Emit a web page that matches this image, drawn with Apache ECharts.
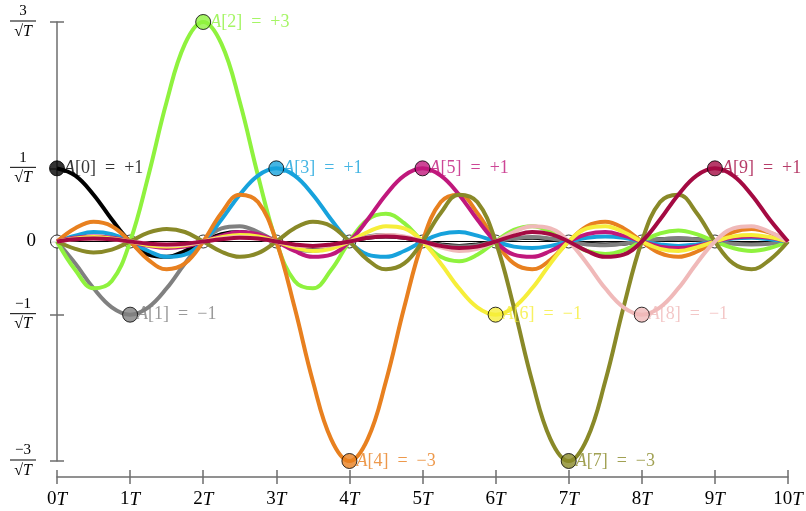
<!DOCTYPE html>
<html><head><meta charset="utf-8">
<script src="https://cdn.jsdelivr.net/npm/echarts@6/dist/echarts.min.js"></script>
<style>html,body{margin:0;padding:0;background:#fff}#c{width:806px;height:511px}</style>
</head><body><div id="c"></div>
<script>
// sample times (in units of T), quarter-T steps
const times = [0,0.25,0.5,0.75,1,1.25,1.5,1.75,2,2.25,2.5,2.75,3,3.25,3.5,3.75,4,4.25,4.5,4.75,5,
  5.25,5.5,5.75,6,6.25,6.5,6.75,7,7.25,7.5,7.75,8,8.25,8.5,8.75,9,9.25,9.5,9.75,10];
// symbol amplitudes A[k]
const amplitudes = [1,-1,3,1,-3,1,-1,-3,-1,1];
// pulse curves (one per symbol)
const pulseA0 = [1,0.90,0.64,0.30,0,-0.18,-0.21,-0.13,0,0.10,0.13,0.08,0,-0.07,-0.09,-0.06,0,0.05,0.07,0.05,0,-0.04,-0.06,-0.04,0,0.04,0.05,0.03,0,-0.03,-0.04,-0.03,0,0.03,0.04,0.03,0,-0.02,-0.03,-0.02,0];
const pulseA1 = [0,-0.30,-0.64,-0.90,-1,-0.90,-0.64,-0.30,0,0.18,0.21,0.13,0,-0.10,-0.13,-0.08,0,0.07,0.09,0.06,0,-0.05,-0.07,-0.05,0,0.04,0.06,0.04,0,-0.04,-0.05,-0.03,0,0.03,0.04,0.03,0,-0.03,-0.04,-0.03,0];
const pulseA2 = [0,-0.39,-0.64,-0.54,0,0.90,1.91,2.70,3,2.70,1.91,0.90,0,-0.54,-0.64,-0.39,0,0.30,0.38,0.25,0,-0.21,-0.27,-0.18,0,0.16,0.21,0.14,0,-0.13,-0.17,-0.12,0,0.11,0.15,0.10,0,-0.09,-0.13,-0.09,0];
const pulseA3 = [0,0.08,0.13,0.10,0,-0.13,-0.21,-0.18,0,0.30,0.64,0.90,1,0.90,0.64,0.30,0,-0.18,-0.21,-0.13,0,0.10,0.13,0.08,0,-0.07,-0.09,-0.06,0,0.05,0.07,0.05,0,-0.04,-0.06,-0.04,0,0.04,0.05,0.03,0];
const pulseA4 = [0,0.18,0.27,0.21,0,-0.25,-0.38,-0.30,0,0.39,0.64,0.54,0,-0.90,-1.91,-2.70,-3,-2.70,-1.91,-0.90,0,0.54,0.64,0.39,0,-0.30,-0.38,-0.25,0,0.21,0.27,0.18,0,-0.16,-0.21,-0.14,0,0.13,0.17,0.12,0];
const pulseA5 = [0,0.05,0.07,0.05,0,-0.06,-0.09,-0.07,0,0.08,0.13,0.10,0,-0.13,-0.21,-0.18,0,0.30,0.64,0.90,1,0.90,0.64,0.30,0,-0.18,-0.21,-0.13,0,0.10,0.13,0.08,0,-0.07,-0.09,-0.06,0,0.05,0.07,0.05,0];
const pulseA6 = [0,0.04,0.06,0.04,0,-0.05,-0.07,-0.05,0,0.06,0.09,0.07,0,-0.08,-0.13,-0.10,0,0.13,0.21,0.18,0,-0.30,-0.64,-0.90,-1,-0.90,-0.64,-0.30,0,0.18,0.21,0.13,0,-0.10,-0.13,-0.08,0,0.07,0.09,0.06,0];
const pulseA7 = [0,-0.10,-0.15,-0.11,0,0.12,0.17,0.13,0,-0.14,-0.21,-0.16,0,0.18,0.27,0.21,0,-0.25,-0.38,-0.30,0,0.39,0.64,0.54,0,-0.90,-1.91,-2.70,-3,-2.70,-1.91,-0.90,0,0.54,0.64,0.39,0,-0.30,-0.38,-0.25,0];
const pulseA8 = [0,0.03,0.04,0.03,0,-0.03,-0.05,-0.04,0,0.04,0.06,0.04,0,-0.05,-0.07,-0.05,0,0.06,0.09,0.07,0,-0.08,-0.13,-0.10,0,0.13,0.21,0.18,0,-0.30,-0.64,-0.90,-1,-0.90,-0.64,-0.30,0,0.18,0.21,0.13,0];
const pulseA9 = [0,0.03,0.04,0.03,0,-0.03,-0.04,-0.03,0,0.03,0.05,0.04,0,-0.04,-0.06,-0.04,0,0.05,0.07,0.05,0,-0.06,-0.09,-0.07,0,0.08,0.13,0.10,0,-0.13,-0.21,-0.18,0,0.30,0.64,0.90,1,0.90,0.64,0.30,0];
const pulses = [pulseA0,pulseA1,pulseA2,pulseA3,pulseA4,pulseA5,pulseA6,pulseA7,pulseA8,pulseA9];
// zero-crossing sample instants (open circles)
const zeroMarks = [0,1,2,3,4,5,6,7,8,9];
// axis ticks
const xTicks = [0,1,2,3,4,5,6,7,8,9,10];
const yTicks = [-3,-1,0,1,3];
const colors = ['#000000','#808080','#8ff23e','#17a2dc','#e8801f','#c0187c','#f6ee3a','#898928','#f0b9b9','#a40a42'];

const FONT = '"Liberation Serif", "DejaVu Serif", serif';
const AXC = '#6e6e6e';

function fmtY(v){
  if (v === 0) return '{z|0}';
  const num = v < 0 ? '\u2212' + Math.abs(v) : String(v);
  return '{n|' + num + '}\n{b| }\n{d|\u221A}{t|T}';
}
const yRich = {
  z:{fontFamily:FONT,fontSize:19,color:'#000'},
  n:{fontFamily:FONT,fontSize:15,color:'#000',align:'center',lineHeight:15},
  b:{width:26,height:1,lineHeight:4,backgroundColor:'#000',align:'center'},
  d:{fontFamily:FONT,fontSize:16,color:'#000',align:'center',lineHeight:17},
  t:{fontFamily:FONT,fontSize:16,fontStyle:'italic',color:'#000',align:'center',lineHeight:17}
};

const series = [];
series.push({type:'line', xAxisIndex:0, yAxisIndex:0, data:[[xTicks[0],0],[xTicks[xTicks.length-1],0]],
  showSymbol:false, lineStyle:{color:'#000',width:1}, z:1, silent:true});
series.push({type:'scatter', xAxisIndex:0, yAxisIndex:0, data:zeroMarks.map(k=>[k,0]),
  symbolSize:13, itemStyle:{color:'#fff',borderColor:'#000',borderWidth:1}, z:2});
pulses.forEach((p,k)=>{
  series.push({type:'line', xAxisIndex:0, yAxisIndex:0, smooth:0.4,
    data: times.map((t,i)=>[t,p[i]]), showSymbol:false,
    lineStyle:{color:colors[k],width:4}, z:3});
});
series.push({type:'scatter', xAxisIndex:0, yAxisIndex:0, z:5,
  symbolSize:15,
  data: amplitudes.map((a,k)=>({value:[k,a], itemStyle:{color:colors[k],borderColor:'#000',borderWidth:1},
    label:{color:colors[k]}})),
  label:{show:true, position:'right', distance:-1,
    formatter: p => {
      const k = p.value[0], a = p.value[1];
      const s = (a>0?'+':'\u2212') + Math.abs(a);
      return '{i|A}{r|[' + k + ']  =  ' + s + '}';
    },
    rich:{
      i:{fontFamily:FONT,fontSize:18,fontStyle:'italic'},
      r:{fontFamily:FONT,fontSize:18}
    }
  }
});

const chart = echarts.init(document.getElementById('c'), null, {renderer:'canvas'});
chart.setOption({
  animation:false,
  backgroundColor:'#fff',
  grid:[
    {left:57, right:18, top:22, height:439},
    {left:57, right:18, top:476, height:1}
  ],
  xAxis:[
    {gridIndex:0, type:'value', min:0, max:10, interval:1, show:false},
    {gridIndex:1, type:'value', min:0, max:10, interval:1, position:'bottom',
      axisLine:{show:true, lineStyle:{color:AXC,width:1.5}},
      axisTick:{show:true, inside:false, length:7, lineStyle:{color:AXC,width:1.5}},
      splitLine:{show:false},
      axisLabel:{margin:13, formatter: v => '{n|' + v + '}{t|T}',
        rich:{n:{fontFamily:FONT,fontSize:19,color:'#000'}, t:{fontFamily:FONT,fontSize:19,fontStyle:'italic',color:'#000'}}}},
    {gridIndex:1, type:'value', min:0, max:10, interval:1, position:'bottom',
      axisLine:{show:false}, axisTick:{show:true, inside:true, length:7, lineStyle:{color:AXC,width:1.5}},
      axisLabel:{show:false}, splitLine:{show:false}}
  ],
  yAxis:[
    {gridIndex:0, type:'value', min:-3, max:3, position:'left',
      axisLine:{show:true, lineStyle:{color:AXC,width:1.5}},
      axisTick:{show:true, inside:false, length:7, customValues:yTicks, lineStyle:{color:AXC,width:1.5}},
      axisLabel:{customValues:yTicks, margin:21, formatter:fmtY, rich:yRich},
      splitLine:{show:false}},
    {gridIndex:0, type:'value', min:-3, max:3, position:'left',
      axisLine:{show:false},
      axisTick:{show:true, inside:true, length:7, customValues:yTicks, lineStyle:{color:AXC,width:1.5}},
      axisLabel:{show:false}, splitLine:{show:false}},
    {gridIndex:1, type:'value', min:0, max:1, show:false}
  ],
  series: series
});
</script>
</body></html>
